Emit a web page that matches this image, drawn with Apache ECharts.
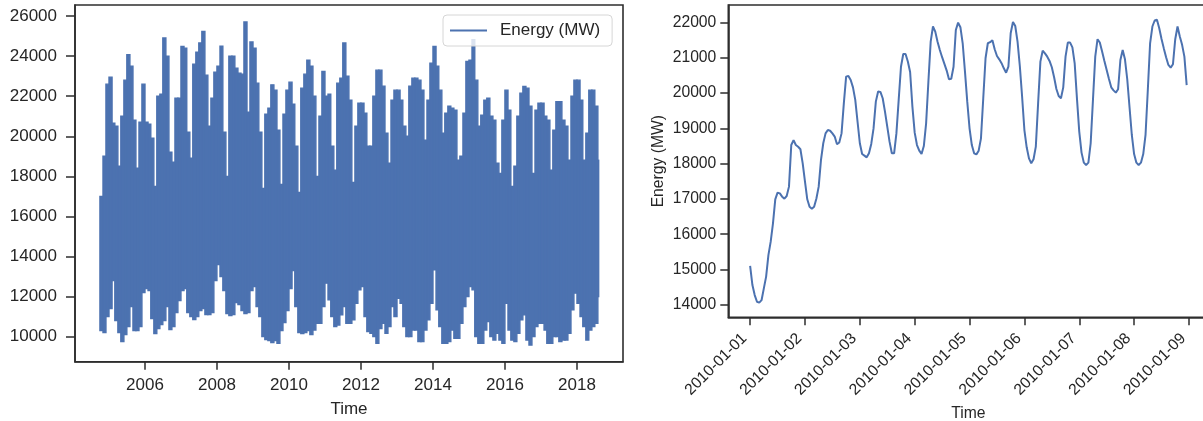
<!DOCTYPE html>
<html>
<head>
<meta charset="utf-8">
<script src="https://cdn.jsdelivr.net/npm/echarts@6/dist/echarts.min.js"></script>
<style>
  html, body { margin: 0; padding: 0; background: #ffffff; }
  #chart { width: 1203px; height: 421px; }
</style>
</head>
<body>
<div id="chart"></div>
<script>
// Hourly load, summarised per calendar month as the highest and lowest hourly value.
// Months run from October 2004 to August 2018 (the record stops on 2018-08-03).
const envelopeStartYear = 2004;
const envelopeStartMonth = 9; // October
const envelopeEnd = new Date(2018, 7, 3).getTime();

const monthlyHigh = [
  17000, 19000, 22600, 22950, 20650, 20500, 18500, 21000, 22800, 24070, 23500, 20800,
  18400, 20700, 22600, 20700, 20600, 19900, 17500, 22000, 22100, 24900, 24000, 19200,
  18700, 21900, 21900, 24480, 24400, 20200, 18900, 23600, 24200, 24650, 25230, 23050,
  20500, 21900, 23200, 23500, 24500, 20200, 18000, 24000, 24000, 23400, 23150, 23100,
  25700, 21200, 24700, 24400, 22650, 20200, 17400, 21100, 21400, 22565, 22300, 20300,
  17600, 21100, 22300, 22700, 21600, 19500, 17200, 22400, 23100, 23800, 23500, 22000,
  18000, 21000, 23230, 22000, 22100, 19500, 18300, 22650, 22900, 24650, 23000, 21800,
  17700, 20500, 21650, 21650, 21150, 19500, 19500, 22000, 23300, 23300, 22500, 20150,
  18650, 21800, 22300, 22300, 21800, 20500, 20000, 22500, 22900, 22900, 22800, 22300,
  19800, 21800, 23650, 24480, 23500, 22300, 20150, 21150, 21500, 21400, 21300, 18800,
  19000, 21150, 23730, 23800, 24815, 22800, 20500, 21050, 21800, 21900, 21000, 20800,
  18650, 18150, 20800, 22300, 21300, 17500, 18500, 21000, 22150, 22480, 22400, 21500,
  18150, 21300, 21650, 21650, 21000, 20800, 18300, 20300, 21730, 21730, 20800, 20500,
  18800, 22000, 22800, 22800, 21800, 18800, 20150, 22300, 22300, 21500, 18800
];

const monthlyLow = [
  10300, 10200, 11000, 11400, 12800, 10800, 10200, 9750, 10100, 10500, 11500, 10300,
  10300, 10500, 12200, 12400, 12300, 10900, 10150, 10400, 10600, 10800, 11500, 10350,
  10500, 11200, 11800, 12300, 12400, 11200, 11000, 10850, 11000, 11300, 11400, 11100,
  11100, 11200, 12800, 13600, 13000, 12300, 11150, 11050, 11100, 11700, 11600, 11300,
  11150, 11200, 12300, 12500, 11500, 11000, 10000, 9850, 9800, 9700, 9800, 9670,
  10300, 10700, 11300, 12400, 13300, 11500, 10200, 10150, 10200, 10300, 10100, 10330,
  10670, 10670, 11500, 12670, 11835, 11000, 10500, 10585, 11085, 11500, 10670, 10670,
  10835, 11670, 12335, 12500, 11000, 10250, 10170, 10000, 9670, 10400, 10670, 10170,
  10500, 11500, 11000, 11920, 11670, 10500, 10000, 10000, 10330, 10330, 9750, 9750,
  10330, 10835, 11670, 13335, 11335, 10500, 9670, 9670, 9750, 10330, 9920, 9920,
  10670, 11500, 12000, 12500, 12335, 10000, 9670, 9670, 10330, 10750, 10000, 9830,
  10170, 9830, 9670, 11670, 10330, 9830, 9750, 10170, 10835, 11085, 9830, 9580,
  10000, 10500, 10670, 10670, 10330, 9670, 9670, 10000, 10000, 9750, 9830, 9830,
  10170, 11335, 12170, 11670, 11000, 10500, 9830, 10330, 10500, 10670, 12000
];

// First eight days of 2010, one value per hour from 2010-01-01 00:00.
const weekStart = new Date(2010, 0, 1).getTime();
const hourlyMW = [
  15100, 14560, 14275, 14085, 14060, 14130, 14465, 14800, 15410, 15790, 16310, 16990,
  17180, 17160, 17065, 17010, 17085, 17350, 18530, 18670, 18530, 18480, 18410, 18010,
  17490, 16990, 16780, 16725, 16780, 17015, 17350, 18105, 18580, 18860, 18955, 18935,
  18860, 18770, 18550, 18600, 18860, 19710, 20470, 20490, 20375, 20165, 19810, 19190,
  18580, 18275, 18230, 18180, 18295, 18560, 19000, 19760, 20045, 20035, 19855, 19475,
  19050, 18625, 18295, 18295, 18860, 19810, 20750, 21110, 21110, 20900, 20600, 19620,
  18880, 18530, 18370, 18275, 18500, 19145, 20330, 21460, 21890, 21745, 21460, 21225,
  21020, 20830, 20640, 20395, 20410, 20750, 21790, 22000, 21870, 21415, 20610, 19760,
  19005, 18530, 18295, 18265, 18370, 18720, 19855, 20990, 21415, 21445, 21500, 21245,
  21055, 20960, 20850, 20705, 20580, 20750, 21700, 22020, 21905, 21460, 20770, 19900,
  18955, 18465, 18150, 18010, 18125, 18485, 19710, 20895, 21205, 21130, 21035, 20915,
  20735, 20450, 20120, 19920, 19855, 20165, 21035, 21435, 21435, 21300, 20845, 19845,
  18910, 18315, 18030, 17965, 18030, 18580, 19810, 21035, 21530, 21435, 21180, 20915,
  20660, 20405, 20165, 20080, 20015, 20110, 20940, 21225, 20960, 20395, 19600, 18815,
  18275, 18030, 17965, 18030, 18275, 18815, 20090, 21415, 21890, 22060, 22080, 21840,
  21535, 21270, 21020, 20800, 20725, 20820, 21530, 21890, 21605, 21370, 21035, 20230
];

// Tick labels
const yearTicks = [2006, 2008, 2010, 2012, 2014, 2016, 2018];
const overviewValueTicks = [10000, 12000, 14000, 16000, 18000, 20000, 22000, 24000, 26000];
const weekValueTicks = [14000, 15000, 16000, 17000, 18000, 19000, 20000, 21000, 22000];
const dayTicks = ['2010-01-01', '2010-01-02', '2010-01-03', '2010-01-04', '2010-01-05',
                  '2010-01-06', '2010-01-07', '2010-01-08', '2010-01-09'];

const seriesName = 'Energy (MW)';

// ---- build the data for the library (x values are epoch milliseconds) ----
// one row per month: [month start, month end, highest hour, lowest hour]
const monthRanges = monthlyHigh.map((hi, i) => {
  const total = envelopeStartMonth + i;
  const y = envelopeStartYear + Math.floor(total / 12);
  const mo = total % 12;
  const t0 = new Date(y, mo, 1).getTime();
  const t1 = Math.min(new Date(y, mo + 1, 1).getTime(), envelopeEnd);
  return [t0, t1, hi, monthlyLow[i]];
});

const HOUR = 3600 * 1000;
const week = hourlyMW.map((v, i) => [weekStart + i * HOUR, v]);

const yearTimes = yearTicks.map(y => new Date(y, 0, 1).getTime());
const dayTimes = dayTicks.map(s => {
  const p = s.split('-').map(Number);
  return new Date(p[0], p[1] - 1, p[2]).getTime();
});

const ink = '#262626';
const frame = '#2e2e2e';
const lineBlue = '#4c72b0';
const fontFamily = '"Liberation Sans", Arial, sans-serif';
const pad2 = n => String(n).padStart(2, '0');

const chart = echarts.init(document.getElementById('chart'), null, { renderer: 'canvas' });

// each month is drawn as a vertical span from its lowest to its highest hour
function renderMonth(params, api) {
  const top = api.coord([api.value(0), api.value(2)]);
  const bottom = api.coord([api.value(1), api.value(3)]);
  return {
    type: 'rect',
    shape: { x: top[0], y: top[1], width: Math.max(bottom[0] - top[0], 0.8), height: bottom[1] - top[1] },
    style: { fill: lineBlue, stroke: lineBlue, lineWidth: 1.4 }
  };
}

const option = {
  animation: false,
  backgroundColor: '#ffffff',
  textStyle: { fontFamily: fontFamily, color: ink },
  grid: [
    { left: 75, top: 5, width: 548, height: 356.7, outerBoundsMode: 'none', containLabel: false,
      show: true, borderColor: frame, borderWidth: 1.6, backgroundColor: 'transparent' },
    { left: 728.3, top: 5, width: 480.2, height: 312.3, outerBoundsMode: 'none', containLabel: false,
      show: true, borderColor: frame, borderWidth: 1.6, backgroundColor: 'transparent' }
  ],
  legend: {
    data: [seriesName],
    left: 443, top: 15,
    padding: [7, 12, 7, 7],
    icon: 'rect',
    itemWidth: 37, itemHeight: 2,
    backgroundColor: 'rgba(255,255,255,0.8)',
    borderColor: '#d6d6d6', borderWidth: 1, borderRadius: 4,
    textStyle: { fontSize: 17, color: ink, fontFamily: fontFamily, padding: [0, 0, 0, 8] },
    selectedMode: false
  },
  xAxis: [
    {
      type: 'value', gridIndex: 0,
      min: new Date(2004, 0, 22).getTime(),
      max: new Date(2019, 3, 13).getTime(),
      name: 'Time', nameLocation: 'middle', nameGap: 39,
      nameTextStyle: { fontSize: 17, color: ink, fontFamily: fontFamily },
      axisLine: { show: true, onZero: false, lineStyle: { color: frame, width: 1.6 } },
      axisTick: { show: true, length: 8, lineStyle: { color: frame, width: 1.5 }, customValues: yearTimes },
      axisLabel: { customValues: yearTimes, formatter: v => String(new Date(v).getFullYear()),
                   fontSize: 17, color: ink, margin: 15 },
      splitLine: { show: false }
    },
    {
      type: 'value', gridIndex: 1,
      min: weekStart - 9.55 * HOUR,
      max: weekStart + 200.55 * HOUR,
      name: 'Time', nameLocation: 'middle', nameGap: 87,
      nameTextStyle: { fontSize: 15.7, color: ink, fontFamily: fontFamily },
      axisLine: { show: true, onZero: false, lineStyle: { color: frame, width: 1.6 } },
      axisTick: { show: true, length: 8, lineStyle: { color: frame, width: 1.5 }, customValues: dayTimes },
      axisLabel: {
        customValues: dayTimes,
        formatter: v => {
          const d = new Date(v);
          return d.getFullYear() + '-' + pad2(d.getMonth() + 1) + '-' + pad2(d.getDate());
        },
        rotate: 45, fontSize: 15.7, color: ink, margin: 13, padding: [0, 8, 0, 0]
      },
      splitLine: { show: false }
    }
  ],
  yAxis: [
    {
      type: 'value', gridIndex: 0, min: 8750, max: 26550,
      axisLine: { show: true, onZero: false, lineStyle: { color: frame, width: 1.6 } },
      axisTick: { show: true, length: 9, lineStyle: { color: frame, width: 1.5 }, customValues: overviewValueTicks },
      axisLabel: { customValues: overviewValueTicks, formatter: v => String(v), fontSize: 17, color: ink, margin: 18 },
      splitLine: { show: false }
    },
    {
      type: 'value', gridIndex: 1, min: 13645, max: 22500,
      name: seriesName, nameLocation: 'middle', nameGap: 62, nameRotate: 90,
      nameTextStyle: { fontSize: 15.7, color: ink, fontFamily: fontFamily },
      axisLine: { show: true, onZero: false, lineStyle: { color: frame, width: 1.6 } },
      axisTick: { show: true, length: 8, lineStyle: { color: frame, width: 1.5 }, customValues: weekValueTicks },
      axisLabel: { customValues: weekValueTicks, formatter: v => String(v), fontSize: 15.7, color: ink, margin: 12 },
      splitLine: { show: false }
    }
  ],
  series: [
    {
      name: 'Monthly range', type: 'custom', xAxisIndex: 0, yAxisIndex: 0,
      data: monthRanges, renderItem: renderMonth,
      encode: { x: [0, 1], y: [2, 3] },
      emphasis: { disabled: true }, silent: true
    },
    {
      name: seriesName, type: 'line', xAxisIndex: 1, yAxisIndex: 1,
      data: week, symbol: 'none', showSymbol: false,
      lineStyle: { color: lineBlue, width: 2 }, itemStyle: { color: lineBlue },
      emphasis: { disabled: true }
    }
  ]
};

chart.setOption(option);
</script>
</body>
</html>
